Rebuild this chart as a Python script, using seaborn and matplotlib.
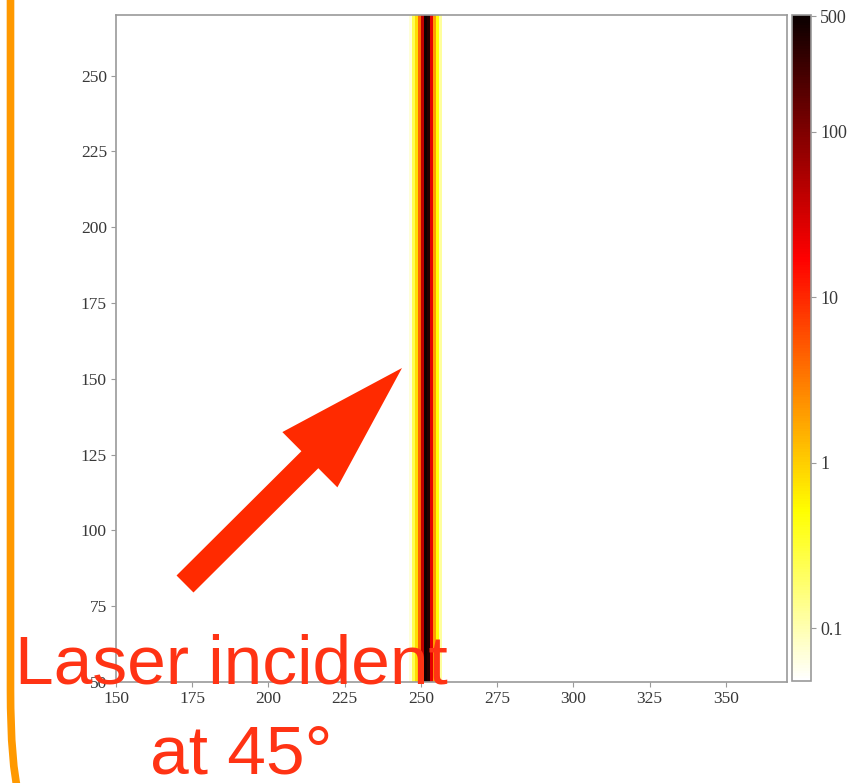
import numpy as np
import pandas as pd
import matplotlib
matplotlib.use("Agg")
import matplotlib.pyplot as plt
import seaborn as sns
from matplotlib.colors import LogNorm
from matplotlib.patches import FancyArrow, PathPatch
from matplotlib.path import Path

# Grid of the fluence map (one cell per unit)
x_coords = list(range(150, 370))
y_coords = list(range(50, 270))

# Intensity across the beam line (columns near x = 251); zero elsewhere
stripe_x = [246, 247, 248, 249, 250, 251, 252, 253, 254, 255, 256]
stripe_intensity = [0.07, 0.25, 0.8, 4.0, 40.0, 450.0, 350.0, 25.0, 2.0, 0.5, 0.12]

x_ticks = [150, 175, 200, 225, 250, 275, 300, 325, 350]
y_ticks = [50, 75, 100, 125, 150, 175, 200, 225, 250]
cbar_ticks = [0.1, 1, 10, 100, 500]
cbar_labels = ["0.1", "1", "10", "100", "500"]
vmin, vmax = 0.048, 510

sns.set_theme(style="white")
plt.rcParams["font.family"] = ["Liberation Serif", "DejaVu Serif"]

profile = pd.Series(0.0, index=x_coords)
profile.loc[stripe_x] = stripe_intensity
grid = pd.DataFrame(np.tile(profile.values, (len(y_coords), 1)),
                    index=y_coords, columns=x_coords)

fig = plt.figure(figsize=(8.59, 7.83), dpi=100)
ax = fig.add_axes([0.1350, 0.1290, 0.7811, 0.8519])
cax = fig.add_axes([0.9220, 0.1303, 0.0221, 0.8506])

cmap = plt.get_cmap("hot_r").copy()
cmap.set_bad("white")
cmap.set_under("white")

sns.heatmap(grid, ax=ax, cbar_ax=cax, cmap=cmap,
            norm=LogNorm(vmin=vmin, vmax=vmax),
            xticklabels=False, yticklabels=False,
            linewidths=0, antialiased=False)
ax.invert_yaxis()

edge = "#9a9a9a"
for s in ax.spines.values():
    s.set_visible(True)
    s.set_color(edge)
    s.set_linewidth(1.2)

ax.set_xticks([v - x_coords[0] for v in x_ticks])
ax.set_xticklabels([str(v) for v in x_ticks])
ax.set_yticks([v - y_coords[0] for v in y_ticks])
ax.set_yticklabels([str(v) for v in y_ticks])
ax.tick_params(axis="both", which="major", direction="out", length=3.5,
               width=0.8, color=edge, labelsize=12.5, labelcolor="#383838", pad=3,
               bottom=True, left=True)
ax.set_xlabel("")
ax.set_ylabel("")

cbar = ax.collections[0].colorbar
cbar.set_ticks(cbar_ticks)
cbar.set_ticklabels(cbar_labels)
cbar.ax.minorticks_off()
cbar.outline.set_visible(True)
cbar.outline.set_edgecolor(edge)
cbar.outline.set_linewidth(1.2)
cbar.ax.tick_params(direction="out", length=3.5, width=0.8, color=edge,
                    labelsize=13, labelcolor="#383838", pad=3)

# Overlay in pixel units for the bracket, arrow and caption
ov = fig.add_axes([0, 0, 1, 1], facecolor="none")
ov.set_xlim(0, 859)
ov.set_ylim(783, 0)
ov.axis("off")

bracket = Path([(10.5, -10), (10.5, 690), (10.5, 765), (19, 795)],
               [Path.MOVETO, Path.LINETO, Path.CURVE3, Path.CURVE3])
ov.add_patch(PathPatch(bracket, facecolor="none", edgecolor="#ff9900",
                       linewidth=5.5, capstyle="butt"))

ov.add_patch(FancyArrow(185, 584, 217, -216, width=24, head_width=78,
                        head_length=130, length_includes_head=True,
                        color="#ff2a00", linewidth=0))

caption_kw = dict(color="#ff3314", fontsize=50, family=["Liberation Sans", "DejaVu Sans"],
                  va="baseline")
ov.text(15, 683, "Laser incident", ha="left", **caption_kw)
ov.text(150, 773, "at 45°", ha="left", **caption_kw)

fig.savefig("out.png", dpi=100)
